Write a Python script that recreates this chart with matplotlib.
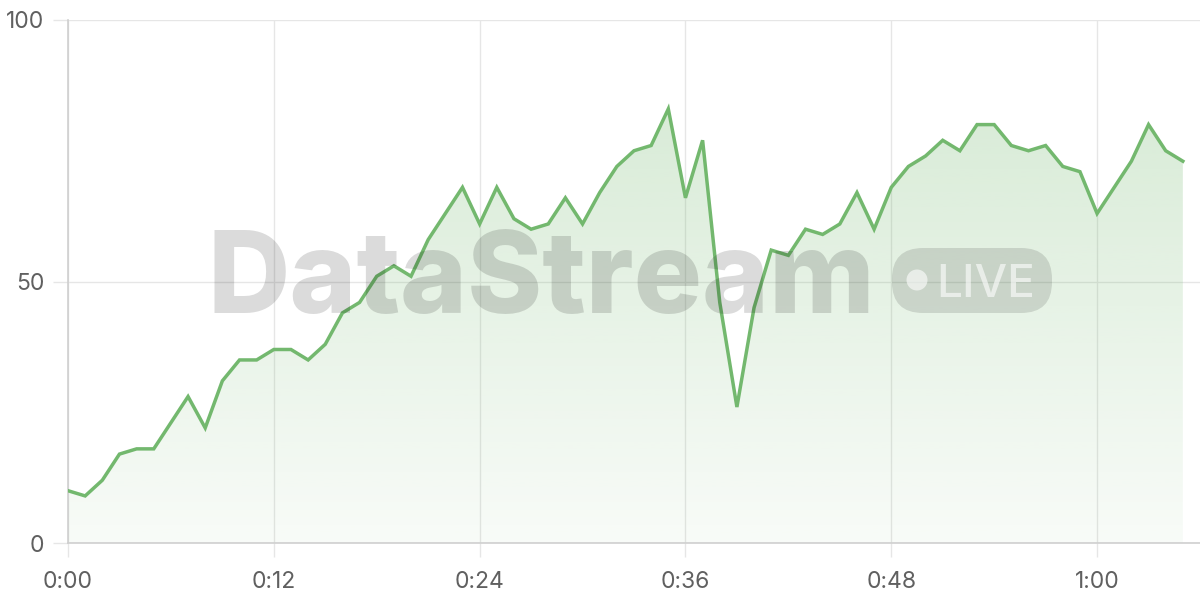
import numpy as np
import matplotlib
matplotlib.use('Agg')
import matplotlib.pyplot as plt
from matplotlib.patches import Polygon, FancyBboxPatch, Circle
from matplotlib.ticker import FuncFormatter
from matplotlib.colors import to_rgb

# seconds since start, one reading per second
seconds = list(range(66))
values = [10, 9, 12, 17, 18, 18, 23, 28, 22, 31,
          35, 35, 37, 37, 35, 38, 44, 46, 51, 53,
          51, 58, 63, 68, 61, 68, 62, 60, 61, 66,
          61, 67, 72, 75, 76, 83, 66, 77, 46, 26,
          45, 56, 55, 60, 59, 61, 67, 60, 68, 72,
          74, 77, 75, 80, 80, 76, 75, 76, 72, 71,
          63, 68, 73, 80, 75, 73]
x_ticks = [0, 12, 24, 36, 48, 60]
y_ticks = [0, 50, 100]

line_color = '#73b86e'
grid_color = '#e6e6e6'

plt.rcParams['font.family'] = ['Inter', 'DejaVu Sans']

fig = plt.figure(figsize=(12, 6), dpi=100)
ax = fig.add_axes([68 / 1200, 57 / 600, 1 - 68 / 1200, 523 / 600])

x = np.array(seconds, dtype=float)
y = np.array(values, dtype=float)

# gradient fill under the line
rgb = to_rgb(line_color)
grad = np.zeros((256, 1, 4))
grad[:, 0, :3] = rgb
grad[:, 0, 3] = np.linspace(0.05, 0.32, 256)
im = ax.imshow(grad, extent=[x[0], x[-1], 0, 100], aspect='auto',
               origin='lower', zorder=1, interpolation='bilinear')
verts = np.column_stack([np.r_[x[0], x, x[-1]], np.r_[0, y, 0]])
poly = Polygon(verts, closed=True, facecolor='none', edgecolor='none')
ax.add_patch(poly)
im.set_clip_path(poly)

ax.plot(x, y, color=line_color, lw=2.5, zorder=3, solid_joinstyle='miter')

ax.set_xlim(0, 66)
ax.set_ylim(0, 100)
ax.set_xticks(x_ticks)
ax.set_yticks(y_ticks)
ax.xaxis.set_major_formatter(FuncFormatter(lambda v, p: '%d:%02d' % (int(v) // 60, int(v) % 60)))
ax.grid(True, color=grid_color, lw=1, zorder=0)
ax.set_axisbelow(True)
for s in ['top', 'right']:
    ax.spines[s].set_visible(False)
for s in ['left', 'bottom']:
    ax.spines[s].set_color('#cfcfcf')
    ax.spines[s].set_linewidth(1.2)
ax.tick_params(axis='y', length=11, color=grid_color, width=1, pad=6, labelsize=16.5, labelcolor='#606060')
ax.tick_params(axis='x', length=10, color=grid_color, width=1, pad=10, labelsize=16.5, labelcolor='#606060')

# watermark overlay in pixel coordinates
ov = fig.add_axes([0, 0, 1, 1], zorder=10)
ov.set_xlim(0, 1200)
ov.set_ylim(600, 0)
ov.axis('off')
ov.patch.set_alpha(0)
ov.text(208, 313, 'DataStream', fontsize=82, fontweight='heavy', va='baseline',
        ha='left', color='black', alpha=0.14)
pill = FancyBboxPatch((892, 248), 160, 65, boxstyle='round,pad=0,rounding_size=31',
                      facecolor='black', edgecolor='none', alpha=0.12)
ov.add_patch(pill)
ov.add_patch(Circle((917, 280), 10.5, facecolor='white', edgecolor='none', alpha=0.6))
ov.text(936, 297, 'LIVE', fontsize=33, fontweight='medium', va='baseline', ha='left',
        color='white', alpha=0.6)

fig.savefig('out.png', dpi=100)
